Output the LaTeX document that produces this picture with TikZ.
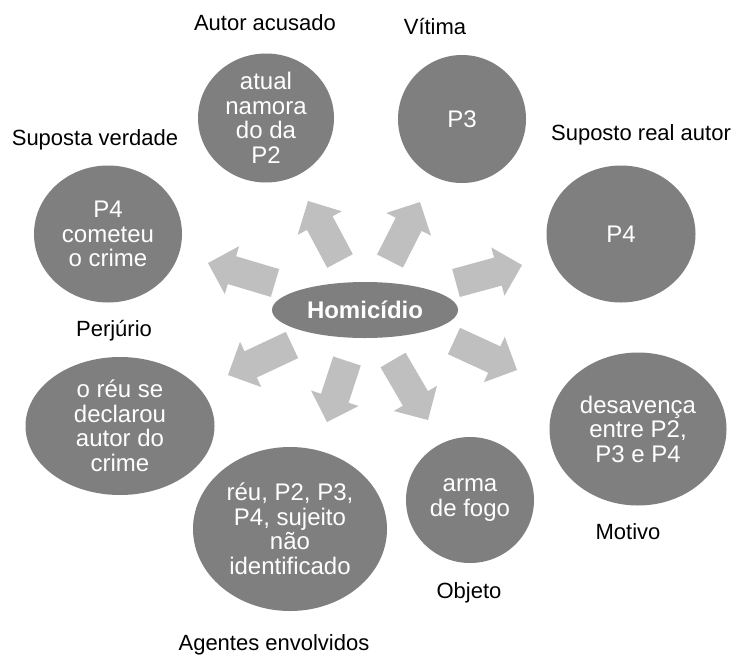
\documentclass[tikz,border=0pt]{standalone}
\usepackage{fontspec}
\setmainfont{Liberation Sans}
\usetikzlibrary{shapes.geometric,calc}
\definecolor{circgray}{RGB}{127,127,127}
\definecolor{arrgray}{RGB}{191,191,191}
\newcommand\blockarr[2]{%
  \coordinate (hb) at ($(#2)!25pt!(#1)$);
  \fill[arrgray] ($(#1)!14.5pt!90:(#2)$) -- ($(hb)!14.5pt!90:(#2)$) -- ($(hb)!25pt!90:(#2)$) -- (#2)
    -- ($(hb)!25pt!-90:(#2)$) -- ($(hb)!14.5pt!-90:(#2)$) -- ($(#1)!14.5pt!-90:(#2)$) -- cycle;}
\tikzset{
  bub/.style={ellipse, fill=circgray, text=white, inner sep=0pt, align=center,
    font=\fontsize{24}{24.5}\selectfont},
  lab/.style={text=black, inner sep=0pt, font=\fontsize{22}{24}\selectfont},
}
\begin{document}
\begin{tikzpicture}[x=1pt,y=-1pt]
\fill[white] (0,0) rectangle (733,659);
\useasboundingbox (0,0) rectangle (733,659);
% central node
\node[ellipse, fill=circgray, text=white, inner sep=0pt, minimum width=186pt, minimum height=56pt,
  font=\bfseries\fontsize{24}{24}\selectfont] (hom) at (365,310) {Homicídio};
% surrounding bubbles
\node[bub, minimum width=136pt, minimum height=129pt] (acus) at (266,118) {atual\\namora\\do da\\P2};
\node[bub, minimum width=128pt, minimum height=128pt] (vit) at (462,119) {P3};
\node[bub, minimum width=148pt, minimum height=137pt] (supv) at (108,234) {P4\\cometeu\\o crime};
\node[bub, minimum width=149pt, minimum height=137pt] (real) at (621,234) {P4};
\node[bub, minimum width=189pt, minimum height=138pt] (perj) at (120,426) {o réu se\\declarou\\autor do\\crime};
\node[bub, minimum width=194pt, minimum height=164pt] (agen) at (290,529) {réu, P2, P3,\\P4, sujeito\\não\\identificado};
\node[bub, minimum width=128pt, minimum height=126pt] (obj) at (470,500) {arma\\de fogo};
\node[bub, minimum width=177pt, minimum height=153pt] (mot) at (638,429) {desavença\\entre P2,\\P3 e P4};
% labels
\node[lab] (lacus) at (265,23) {Autor acusado};
\node[lab] (lvit) at (435,27) {Vítima};
\node[lab] (lsupv) at (95,140) {Suposta verdade};
\node[lab] (lreal) at (641,135) {Suposto real autor};
\node[lab] (lperj) at (114,331) {Perjúrio};
\node[lab] (lagen) at (274,645) {Agentes envolvidos};
\node[lab] (lobj) at (469,593) {Objeto};
\node[lab] (lmot) at (628,532) {Motivo};
% arrow coordinates
\coordinate (t1) at (340,261); \coordinate (h1) at (308,201);
\coordinate (t2) at (390,261); \coordinate (h2) at (420,202);
\coordinate (t3) at (275,283); \coordinate (h3) at (208,263);
\coordinate (t4) at (456,283); \coordinate (h4) at (522,265);
\coordinate (t5) at (292,345); \coordinate (h5) at (228,375);
\coordinate (t6) at (347,361); \coordinate (h6) at (327,422);
\coordinate (t7) at (393,360); \coordinate (h7) at (428,420);
\coordinate (t8) at (454,341); \coordinate (h8) at (517,370);
\blockarr{t1}{h1}
\blockarr{t2}{h2}
\blockarr{t3}{h3}
\blockarr{t4}{h4}
\blockarr{t5}{h5}
\blockarr{t6}{h6}
\blockarr{t7}{h7}
\blockarr{t8}{h8}
\end{tikzpicture}
\end{document}
